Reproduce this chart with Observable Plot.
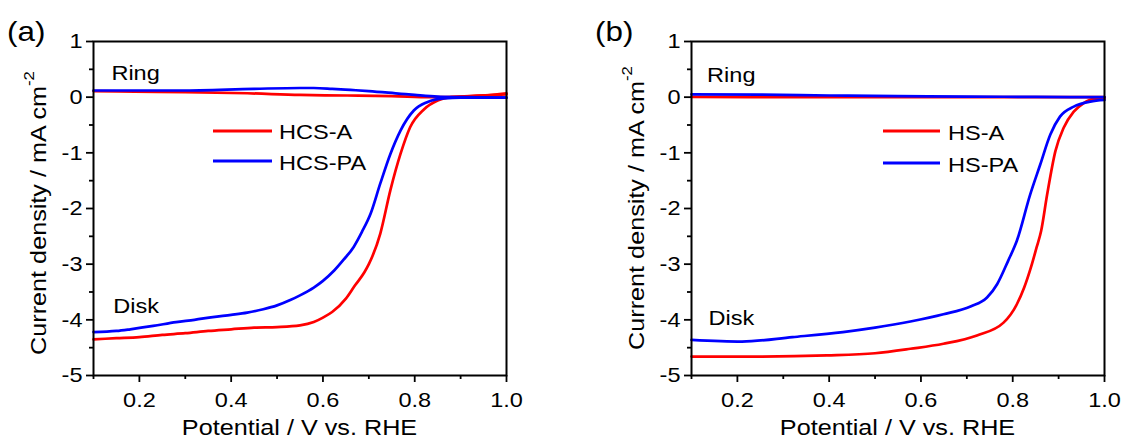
<!DOCTYPE html>
<html>
<head>
<meta charset="utf-8">
<script src="https://cdn.jsdelivr.net/npm/d3@7"></script>
<script src="https://cdn.jsdelivr.net/npm/@observablehq/plot@0.6"></script>
<style>
html, body { margin: 0; padding: 0; background: #fff; }
#wrap { position: relative; width: 1123px; height: 439px; overflow: hidden; background: #fff; }
#wrap > div { position: absolute; top: 0; }
</style>
</head>
<body>
<div id="wrap"><div id="pa" style="left:0px"></div><div id="pb" style="left:561px"></div></div>
<script>
const FONT = "'Liberation Sans', Arial, Helvetica, sans-serif";
const RED = "#ff0000", BLUE = "#0000ff";

// ---- tick values ----
const xMajor = [0.2, 0.4, 0.6, 0.8, 1.0];
const xMinor = [0.1, 0.3, 0.5, 0.7, 0.9];
const yMajor = [-5, -4, -3, -2, -1, 0, 1];
const yMinor = [-4.5, -3.5, -2.5, -1.5, -0.5, 0.5];

// ---- panel (a) data ----
const hcsA_disk_x = [0.10,0.15,0.20,0.25,0.30,0.35,0.40,0.45,0.50,0.55,0.58,0.60,0.62,0.65,0.67,0.69,0.70,0.725,0.747,0.769,0.79,0.82,0.85,0.88,0.92,1.00];
const hcsA_disk_y = [-4.35,-4.33,-4.31,-4.27,-4.24,-4.20,-4.17,-4.14,-4.13,-4.10,-4.04,-3.96,-3.86,-3.62,-3.38,-3.15,-3.00,-2.45,-1.67,-1.02,-0.54,-0.22,-0.06,0.00,0.02,0.05];
const hcsPA_disk_x = [0.10,0.15,0.18,0.23,0.28,0.32,0.36,0.40,0.435,0.47,0.50,0.53,0.55,0.58,0.60,0.625,0.645,0.667,0.685,0.704,0.725,0.747,0.769,0.798,0.827,0.864,0.90,1.00];
const hcsPA_disk_y = [-4.22,-4.20,-4.17,-4.11,-4.04,-4.00,-3.95,-3.91,-3.87,-3.81,-3.74,-3.64,-3.56,-3.42,-3.30,-3.11,-2.92,-2.69,-2.42,-2.09,-1.55,-1.02,-0.60,-0.24,-0.09,-0.02,-0.01,-0.01];
const hcsA_ring_x = [0.10,0.19,0.30,0.435,0.55,0.653,0.75,0.835,0.90,0.95,1.00];
const hcsA_ring_y = [0.11,0.10,0.09,0.07,0.04,0.03,0.02,0.00,0.01,0.03,0.07];
const hcsPA_ring_x = [0.10,0.29,0.45,0.55,0.58,0.62,0.66,0.70,0.77,0.80,0.85,0.90,1.00];
const hcsPA_ring_y = [0.12,0.12,0.15,0.165,0.165,0.15,0.13,0.11,0.06,0.04,0.01,0.00,-0.01];

// ---- panel (b) data ----
const hsA_disk_x = [0.10,0.25,0.395,0.50,0.577,0.649,0.722,0.78,0.809,0.825,0.84,0.852,0.862,0.875,0.893,0.911,0.933,0.954,0.976,1.00];
const hsA_disk_y = [-4.66,-4.66,-4.64,-4.60,-4.52,-4.43,-4.28,-4.05,-3.72,-3.42,-3.05,-2.70,-2.40,-1.75,-0.97,-0.55,-0.26,-0.11,-0.03,-0.02];
const hsPA_disk_x = [0.10,0.21,0.32,0.43,0.50,0.577,0.649,0.708,0.744,0.766,0.79,0.809,0.838,0.86,0.882,0.903,0.933,0.969,1.00];
const hsPA_disk_y = [-4.36,-4.39,-4.31,-4.22,-4.14,-4.03,-3.90,-3.76,-3.60,-3.36,-2.94,-2.58,-1.75,-1.21,-0.67,-0.35,-0.17,-0.08,-0.05];
const hsA_ring_x = [0.10,0.30,0.50,0.70,0.90,1.00];
const hsA_ring_y = [0.005,0.00,0.00,0.00,0.00,0.00];
const hsPA_ring_x = [0.10,0.25,0.40,0.55,0.70,0.85,1.00];
const hsPA_ring_y = [0.05,0.045,0.03,0.02,0.01,0.005,0.00];

// ---- labels ----
const panelLabels = ["(a)", "(b)"];
const legendNames = [["HCS-A", "HCS-PA"], ["HS-A", "HS-PA"]];
const xTitle = "Potential / V vs. RHE";
const yTitleMain = "Current density / mA cm";
const yTitleSup = "-2";

const rows = (xs, ys) => xs.map((x, i) => ({x, y: ys[i]}));
const fmtY = d => (d < 0 ? "-" : "") + Math.abs(d);

function makePanel(opt) {
  const lineOpts = c => ({x: "x", y: "y", stroke: c, strokeWidth: 2.7, curve: "monotone-x"});
  return Plot.plot({
    width: opt.width, height: 439,
    marginLeft: opt.ml, marginRight: opt.mr, marginTop: 41, marginBottom: 64,
    x: {domain: [0.1, 1.0]},
    y: {domain: [-5, 1]},
    style: {fontFamily: FONT, fontSize: "21px", color: "black", background: "white", overflow: "visible"},
    marks: [
      Plot.line(rows(opt.redRing[0], opt.redRing[1]), lineOpts(RED)),
      Plot.line(rows(opt.redDisk[0], opt.redDisk[1]), lineOpts(RED)),
      Plot.line(rows(opt.blueRing[0], opt.blueRing[1]), lineOpts(BLUE)),
      Plot.line(rows(opt.blueDisk[0], opt.blueDisk[1]), lineOpts(BLUE)),
      Plot.text(opt.annot, {x: "x", y: "y", text: "t", textAnchor: "start", lineAnchor: "bottom", fontSize: 21, fill: "black"}),
      Plot.axisX({ticks: xMajor, tickSize: 7, tickPadding: 10, tickFormat: d3.format(".1f"), fontSize: 21, label: null, strokeWidth: 1.8}),
      Plot.axisX({ticks: xMinor, tickSize: 4, tickFormat: () => "", label: null, strokeWidth: 1.8}),
      Plot.axisY({ticks: yMajor, tickSize: 7, tickPadding: 4, tickFormat: fmtY, fontSize: 21, label: null, strokeWidth: 1.8}),
      Plot.axisY({ticks: yMinor, tickSize: 4, tickFormat: () => "", label: null, strokeWidth: 1.8}),
      Plot.frame({stroke: "black", strokeWidth: 2})
    ]
  });
}

function decorate(svgNode, d) {
  const svg = d3.select(svgNode);
  svg.append("text").attr("x", d.plx).attr("y", 41).attr("text-anchor", "start")
    .attr("font-size", 28).attr("fill", "black").text(d.panel);
  const yl = svg.append("text")
    .attr("transform", `translate(${d.ylx},${d.yly}) rotate(-90)`)
    .attr("text-anchor", "middle").attr("font-size", 22.5).attr("fill", "black");
  yl.append("tspan").text(yTitleMain);
  yl.append("tspan").attr("dy", -12).attr("font-size", 15).text(yTitleSup);
  svg.append("text").attr("x", d.xtx).attr("y", 435).attr("text-anchor", "middle")
    .attr("font-size", 22.5).attr("fill", "black").text(xTitle);
  const lg = d.legend;
  [[RED, lg.y1, lg.t1, d.names[0]], [BLUE, lg.y2, lg.t2, d.names[1]]].forEach(([c, ly, ty, name]) => {
    svg.append("line").attr("x1", lg.x1).attr("x2", lg.x2).attr("y1", ly).attr("y2", ly)
      .attr("stroke", c).attr("stroke-width", 3);
    svg.append("text").attr("x", lg.tx).attr("y", ty).attr("text-anchor", "start")
      .attr("font-size", 21).attr("fill", "black").text(name);
  });
}

function stretch(svgNode, f) {
  svgNode.querySelectorAll("text").forEach(t => {
    const L = t.getComputedTextLength();
    if (L > 0) {
      t.setAttribute("textLength", (L * f).toFixed(2));
      t.setAttribute("lengthAdjust", "spacingAndGlyphs");
    }
  });
}

const A = makePanel({
  width: 561, ml: 93, mr: 55,
  redRing: [hcsA_ring_x, hcsA_ring_y], redDisk: [hcsA_disk_x, hcsA_disk_y],
  blueRing: [hcsPA_ring_x, hcsPA_ring_y], blueDisk: [hcsPA_disk_x, hcsPA_disk_y],
  annot: [{x: 0.139, y: 0.30, t: "Ring"}, {x: 0.143, y: -3.87, t: "Disk"}]
});
document.getElementById("pa").appendChild(A);
decorate(A, {panel: panelLabels[0], plx: 7, ylx: 46, yly: 213, xtx: 299.5, names: legendNames[0],
  legend: {x1: 213, x2: 272, y1: 131, y2: 161, tx: 279, t1: 139, t2: 170}});
stretch(A, 1.12);

const B = makePanel({
  width: 562, ml: 130, mr: 19,
  redRing: [hsA_ring_x, hsA_ring_y], redDisk: [hsA_disk_x, hsA_disk_y],
  blueRing: [hsPA_ring_x, hsPA_ring_y], blueDisk: [hsPA_disk_x, hsPA_disk_y],
  annot: [{x: 0.134, y: 0.28, t: "Ring"}, {x: 0.137, y: -4.09, t: "Disk"}]
});
document.getElementById("pb").appendChild(B);
decorate(B, {panel: panelLabels[1], plx: 34, ylx: 83, yly: 208, xtx: 336.5, names: legendNames[1],
  legend: {x1: 322, x2: 379, y1: 131, y2: 163, tx: 387, t1: 140, t2: 171.5}});
stretch(B, 1.12);
</script>
</body>
</html>
